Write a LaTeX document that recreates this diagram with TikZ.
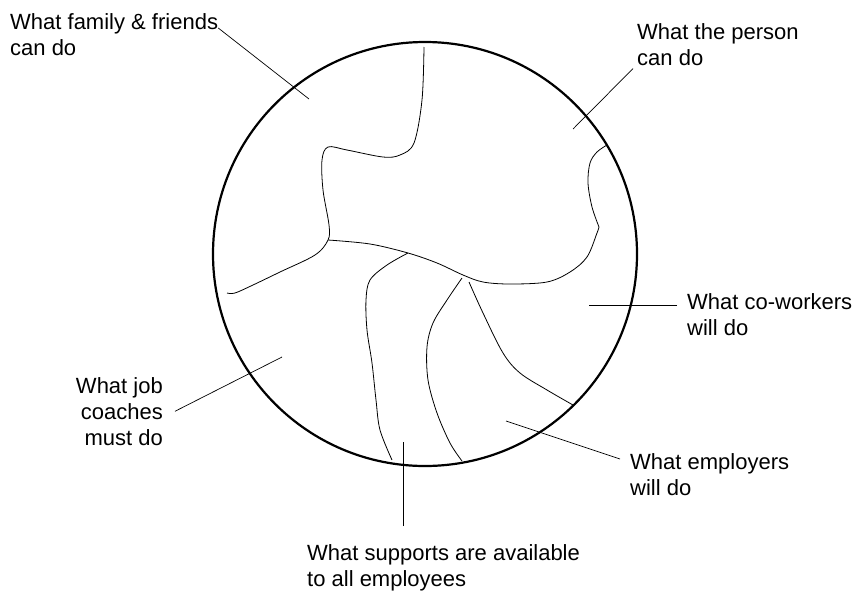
\documentclass[tikz,border=0pt]{standalone}
\usepackage{fontspec}
\setmainfont{Liberation Sans}
\begin{document}
\begin{tikzpicture}[x=1pt,y=-1pt,
  lbl/.style={inner sep=0pt,font=\fontsize{22}{26}\selectfont,align=left},
  leader/.style={line width=0.7pt},
  border/.style={line width=2.2pt},
  region/.style={line width=0.8pt,smooth,tension=0.55}]
\useasboundingbox (0,0) rectangle (864,592);
\draw[border] (425,254) circle (212pt);
\draw[region] plot coordinates {(424,47) (422,100) (414,143) (400,155) (383,157) (347,150) (328,147) (322,160) (323,190) (329,225) (328,240) (315,255) (280,272) (253,285) (235,293) (227,293)};
\draw[region] plot coordinates {(328,240) (370,244) (408,253) (437,263) (463,275) (483,282) (510,284) (547,282) (570,272) (587,257) (597,233) (599,227)};
\draw[region] plot coordinates {(599,227) (592,207) (588,183) (590,163) (597,152) (607,145)};
\draw[region] plot coordinates {(408,253) (387,265) (370,280) (366,300) (367,330) (372,363) (376,400) (380,430) (392,460)};
\draw[region] plot coordinates {(462,278) (447,300) (433,323) (427,347) (428,380) (437,413) (450,443) (462,461)};
\draw[region] plot coordinates {(469,282) (483,313) (503,353) (520,373) (547,390) (573,405)};
\node[lbl,anchor=north west] (family) at (10,13) {What family \& friends\\can do};
\node[lbl,anchor=north west] (person) at (637,23) {What the person\\can do};
\node[lbl,anchor=north west] (coworkers) at (687,293) {What co-workers\\will do};
\node[lbl,anchor=north east,align=right] (coaches) at (163,377) {What job\\coaches\\must do};
\node[lbl,anchor=north west] (employers) at (630,453) {What employers\\will do};
\node[lbl,anchor=north west] (supports) at (307,544) {What supports are available\\to all employees};
\coordinate (familyin) at (309,99);
\coordinate (personin) at (573,129);
\coordinate (coworkersin) at (589,305);
\coordinate (coachesin) at (282,357);
\coordinate (employersin) at (506,421);
\coordinate (supportsin) at (403,442);
\draw[leader] ([yshift=-15pt]family.north east) -- (familyin);
\draw[leader] ([xshift=-4pt,yshift=-3pt]person.south west) -- (personin);
\draw[leader] ([xshift=-10pt,yshift=-12pt]coworkers.north west) -- (coworkersin);
\draw[leader] ([xshift=12pt]coaches.east) -- (coachesin);
\draw[leader] ([xshift=-10pt,yshift=-6pt]employers.north west) -- (employersin);
\draw[leader] ([xshift=96pt,yshift=18pt]supports.north west) -- (supportsin);
\end{tikzpicture}
\end{document}
